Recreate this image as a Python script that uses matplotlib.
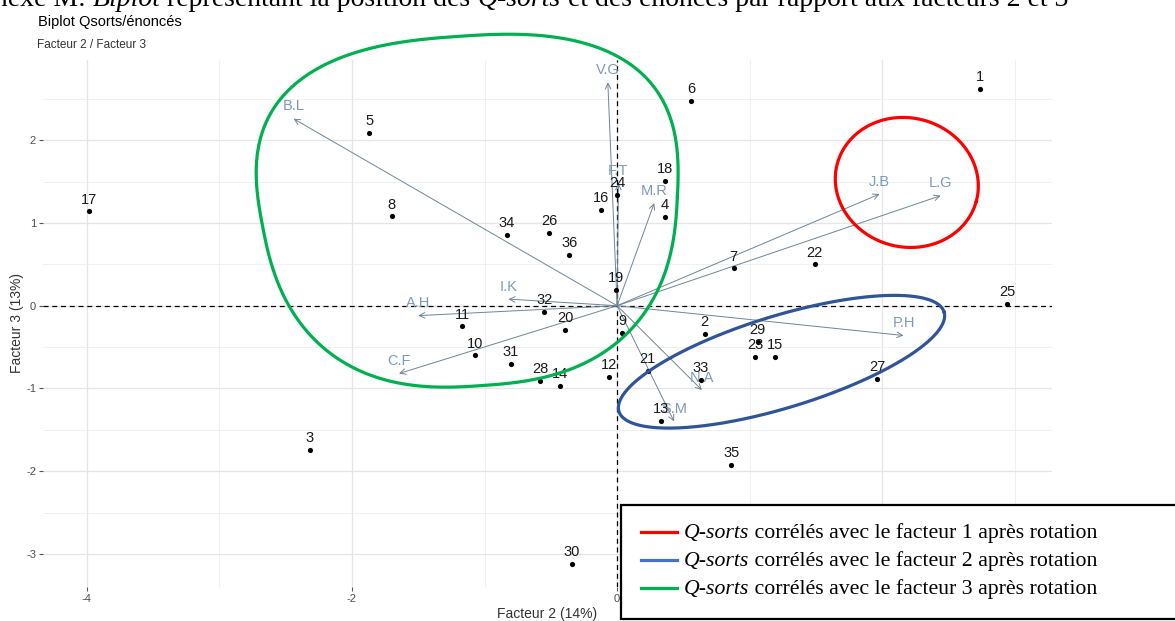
import numpy as np
import matplotlib
matplotlib.use("Agg")
import matplotlib.pyplot as plt
from matplotlib.patches import Rectangle
from matplotlib.lines import Line2D

plt.rcParams["font.family"] = ["Liberation Sans", "DejaVu Sans"]
plt.rcParams["axes.unicode_minus"] = False

# ---- Q-sorts (individus) ----
qsort_ids = [str(i) for i in range(1, 37)]
qsort_x = [2.74, 0.66, -2.32, 0.36, -1.87, 0.56, 0.88, -1.70, 0.04, -1.07,
           -1.17, -0.06, 0.33, -0.43, 1.19, -0.12, -3.98, 0.36, -0.01, -0.39,
           0.23, 1.49, 1.04, 0.00, 2.94, -0.51, 1.96, -0.58, 1.06, -0.34,
           -0.80, -0.55, 0.63, -0.83, 0.86, -0.36]
qsort_y = [2.62, -0.34, -1.74, 1.07, 2.09, 2.48, 0.45, 1.08, -0.33, -0.60,
           -0.25, -0.86, -1.39, -0.97, -0.62, 1.16, 1.14, 1.51, 0.19, -0.29,
           -0.79, 0.50, -0.62, 1.34, 0.02, 0.88, -0.88, -0.91, -0.44, -3.12,
           -0.70, -0.07, -0.90, 0.86, -1.92, 0.61]

# ---- enonces (variables) ----
var_names = ["B.L", "V.G", "F.T", "M.R", "I.K", "A.H", "C.F", "J.B", "L.G",
             "P.H", "N.A", "S.M"]
var_x = [-2.44, -0.07, 0.01, 0.28, -0.82, -1.50, -1.645, 1.98, 2.44, 2.16, 0.64, 0.43]
var_y = [2.26, 2.70, 1.48, 1.24, 0.08, -0.12, -0.82, 1.35, 1.33, -0.36, -1.02, -1.40]

# ---- groupes entoures ----
legend_labels = ["corrélés avec le facteur 1 après rotation",
                 "corrélés avec le facteur 2 après rotation",
                 "corrélés avec le facteur 3 après rotation"]
group_colors = ["#FF0000", "#2F5597", "#00B050"]
legend_line_colors = ["#FF0000", "#4472C4", "#00B050"]

W, H = 1175, 621
fig = plt.figure(figsize=(W / 100, H / 100), dpi=100)
fig.patch.set_facecolor("white")

ax_l, ax_r, ax_t, ax_b = 43, 1052, 60, 587
ax = fig.add_axes([ax_l / W, 1 - ax_b / H, (ax_r - ax_l) / W, (ax_b - ax_t) / H])
xmin, xmax, ymin, ymax = -4.33, 3.28, -3.40, 2.97
ax.set_xlim(xmin, xmax)
ax.set_ylim(ymin, ymax)
sx = (ax_r - ax_l) / (xmax - xmin)   # px per unit
sy = (ax_b - ax_t) / (ymax - ymin)

for s in ax.spines.values():
    s.set_visible(False)
ax.set_xticks([-4, -2, 0, 2])
ax.set_yticks([-3, -2, -1, 0, 1, 2])
ax.set_xticks([-3, -1, 1, 3], minor=True)
ax.set_yticks([-2.5, -1.5, -0.5, 0.5, 1.5, 2.5], minor=True)
ax.grid(which="major", color="#E5E5E5", lw=0.9)
ax.grid(which="minor", color="#EEEEEE", lw=0.6)
ax.set_axisbelow(True)
ax.tick_params(which="major", length=3, width=0.8, color="#555555",
               labelsize=8, labelcolor="#4D4D4D", pad=2)
ax.tick_params(which="minor", length=0)

ax.axhline(0, color="black", lw=0.9, ls=(0, (4, 3)), zorder=2)
ax.axvline(0, color="black", lw=0.9, ls=(0, (4, 3)), zorder=2)

# arrows
arrow_col = "#6F8597"
label_col = "#7C9AB6"
for name, vx, vy in zip(var_names, var_x, var_y):
    ax.annotate("", xy=(vx, vy), xytext=(0, 0),
                arrowprops=dict(arrowstyle="->", color=arrow_col, lw=0.7,
                                shrinkA=0, shrinkB=0, mutation_scale=10),
                zorder=3)
    ax.annotate(name, xy=(vx, vy), xytext=(0, 9), textcoords="offset points",
                ha="center", va="center", fontsize=10.5, color=label_col, zorder=4)

# points
ax.scatter(qsort_x, qsort_y, s=14, color="black", zorder=5, linewidths=0)
for lab, px, py in zip(qsort_ids, qsort_x, qsort_y):
    ax.annotate(lab, xy=(px, py), xytext=(0, 8.5), textcoords="offset points",
                ha="center", va="center", fontsize=10.5, color="#1A1A1A", zorder=6)


def shape_points(cx, cy, a_px, b_px, ang=0.0, n=2.0, k=0.0):
    t = np.linspace(0, 2 * np.pi, 400)
    c, s = np.cos(t), np.sin(t)
    u = np.sign(c) * np.abs(c) ** (2 / n)
    v = np.sign(s) * np.abs(s) ** (2 / n)
    px = a_px * u * (1 + k * v)
    py = b_px * v
    r = np.deg2rad(ang)
    qx = px * np.cos(r) - py * np.sin(r)
    qy = px * np.sin(r) + py * np.cos(r)
    return cx + qx / sx, cy + qy / sy


# red circle, blue ellipse, green rounded shape
gx, gy = shape_points(2.185, 1.49, 72, 64.5, ang=-15)
ax.plot(gx, gy, color=group_colors[0], lw=2.3, zorder=7, clip_on=False)
gx, gy = shape_points(1.24, -0.677, 170, 46, ang=17)
ax.plot(gx, gy, color=group_colors[1], lw=2.3, zorder=7, clip_on=False)
gx, gy = shape_points(-1.11, 1.145, 208, 175, ang=4, n=2.6, k=0.1)
ax.plot(gx, gy, color=group_colors[2], lw=2.3, zorder=7, clip_on=False)

# titles and axis labels (ggplot style)
fig.text(38 / W, 1 - 22 / H, "Biplot Qsorts/énoncés", fontsize=10.5,
         color="black", va="center", ha="left")
fig.text(37 / W, 1 - 45 / H, "Facteur 2 / Facteur 3", fontsize=8.5,
         color="#333333", va="center", ha="left")
fig.text(547 / W, 1 - 614 / H, "Facteur 2 (14%)", fontsize=10,
         color="#333333", va="center", ha="center")
fig.text(17 / W, 1 - 323 / H, "Facteur 3 (13%)", fontsize=10, rotation=90,
         color="#333333", va="center", ha="center")

renderer = fig.canvas.get_renderer()


def text_runs(x_px, y_px, parts, size):
    texts = []
    x = x_px
    for s, style in parts:
        t = fig.text(x / W, 1 - y_px / H, s, fontsize=size, style=style,
                     family="Liberation Serif", color="black",
                     ha="left", va="baseline", zorder=20)
        x += t.get_window_extent(renderer).width
        texts.append(t)
    return texts, x - x_px


# legend box (cut at the right edge)
fig.patches.append(Rectangle((621 / W, 1 - 619 / H), 600 / W, 114 / H,
                             transform=fig.transFigure, facecolor="white",
                             edgecolor="black", lw=1.6, zorder=15))
rows_y = [532, 560, 588]
for lab, col, ry in zip(legend_labels, legend_line_colors, rows_y):
    fig.lines.append(Line2D([641 / W, 677 / W], [1 - ry / H, 1 - ry / H],
                            transform=fig.transFigure, color=col, lw=2.3, zorder=16))
    text_runs(684, ry + 6, [("Q-sorts", "italic"), (" " + lab, "normal")], 15.7)

# document caption cut at the top
cap_parts = [("Annexe M: ", "normal"), ("Biplot", "italic"),
             (" représentant la position des ", "normal"), ("Q-sorts", "italic"),
             (" et des énoncés par rapport aux facteurs 2 et 3", "normal")]
texts, total = text_runs(0, 6, cap_parts, 20)
shift = 1068 - total
for t in texts:
    x0, y0 = t.get_position()
    t.set_position((x0 + shift / W, y0))

fig.savefig("out.png", dpi=100)
